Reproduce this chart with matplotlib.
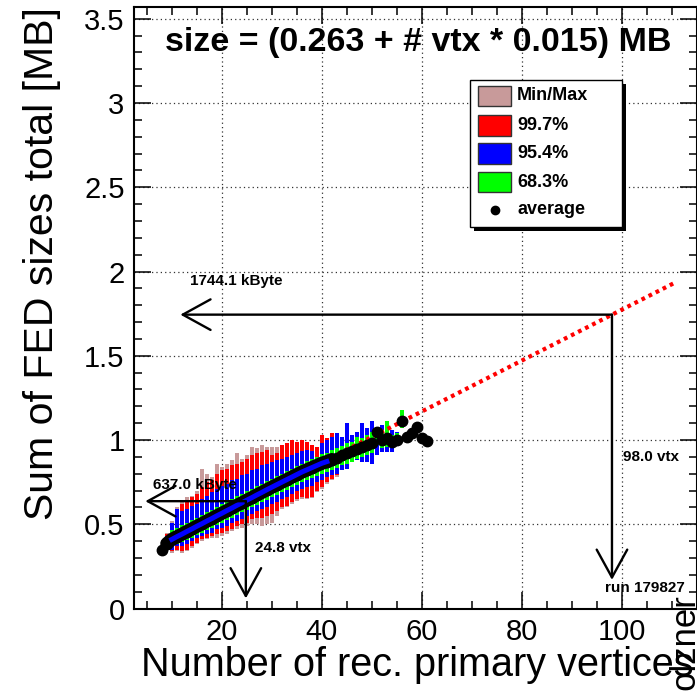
import matplotlib
matplotlib.use('Agg')
import matplotlib.pyplot as plt
import numpy as np
from matplotlib.patches import Rectangle
from matplotlib.lines import Line2D
from matplotlib.ticker import MultipleLocator, FuncFormatter

plt.rcParams['font.family'] = ['Liberation Sans', 'DejaVu Sans']

# number of vertices per bin
vtx_avg = list(range(8, 62))
avg_size = [0.345, 0.385, 0.410, 0.426, 0.441, 0.457, 0.472, 0.488, 0.503, 0.519,
            0.534, 0.550, 0.565, 0.581, 0.596, 0.612, 0.627, 0.643, 0.658, 0.674,
            0.689, 0.705, 0.720, 0.735, 0.750, 0.765, 0.780, 0.795, 0.810, 0.823,
            0.836, 0.849, 0.862, 0.872, 0.884, 0.896, 0.910, 0.924, 0.936, 0.948,
            0.958, 0.968, 0.985, 1.050, 1.000, 1.010, 0.990, 1.000, 1.115, 1.020,
            1.040, 1.080, 1.010, 0.995]

vtx_band = list(range(8, 57))
size_min = [.33, .35, .33, .34, .33, .34, .36, .38, .40, .41, .42, .42, .43, .44, .46, .47,
            .48, .49, .50, .50, .49, .50, .51, .55, .59, .60, .62, .64, .65, .65, .655, .69,
            .71, .74, .76, .78, .82, .83, .87, .88, .87, .87, .86, .91, .93, .93, .93, .97, 1.07]
lo_997 = [.335, .355, .34, .35, .34, .35, .37, .39, .41, .42, .43, .44, .45, .46, .47, .49,
          .50, .51, .53, .54, .54, .55, .56, .58, .60, .61, .63, .65, .66, .655, .66, .70,
          .72, .75, .77, .79, .82, .83, .87, .88, .87, .87, .86, .91, .93, .93, .93, .97, 1.07]
lo_954 = [.335, .36, .35, .37, .37, .38, .40, .42, .43, .44, .45, .47, .48, .49, .51, .52,
          .53, .55, .56, .58, .59, .60, .62, .63, .65, .66, .68, .70, .71, .72, .73, .75,
          .76, .78, .79, .80, .82, .83, .87, .88, .87, .87, .86, .91, .93, .93, .93, .97, 1.07]
lo_683 = [.34, .36, .37, .38, .395, .405, .42, .435, .45, .465, .48, .495, .51, .525, .54, .555,
          .57, .585, .60, .615, .63, .645, .66, .675, .69, .705, .72, .735, .75, .76, .775, .785,
          .80, .81, .82, .835, .85, .86, .87, .89, .90, .91, .92, .97, .95, .96, .95, .97, 1.07]
hi_683 = [.36, .42, .465, .48, .495, .51, .525, .54, .555, .57, .585, .60, .62, .635, .65, .665,
          .68, .695, .71, .725, .74, .755, .77, .785, .80, .815, .83, .845, .86, .875, .885, .90,
          .915, .925, .94, .95, .965, .98, .99, 1.02, 1.01, 1.03, 1.05, 1.08, 1.06, 1.11, 1.03, 1.04, 1.18]
hi_954 = [.36, .43, .51, .59, .58, .59, .61, .62, .65, .67, .69, .71, .73, .74, .76, .77,
          .79, .80, .82, .83, .85, .86, .87, .88, .89, .90, .91, .92, .935, .94, .935, .90,
          .98, 1.00, 1.02, 1.04, 1.02, 1.10, 1.03, 1.05, 1.10, 1.07, 1.11, 1.08, 1.09, 1.11, 1.06, 1.05, 1.18]
hi_997 = [.365, .44, .51, .59, .62, .64, .66, .68, .72, .75, .76, .80, .82, .83, .85, .86,
          .87, .89, .91, .92, .93, .94, .91, .92, .97, .98, 1.00, .99, 1.00, .99, .97, .96,
          1.03, 1.01, 1.04, 1.04, 1.02, 1.10, 1.03, 1.05, 1.10, 1.07, 1.11, 1.08, 1.09, 1.11, 1.06, 1.05, 1.18]
size_max = [.37, .45, .52, .60, .63, .66, .67, .70, .83, .80, .78, .86, .84, .86, .88, .92,
            .89, .91, .96, .95, .97, .96, .96, .96, .97, .98, 1.00, .99, 1.00, .99, .97, .96,
            1.03, 1.01, 1.04, 1.04, 1.02, 1.10, 1.03, 1.05, 1.10, 1.07, 1.11, 1.08, 1.09, 1.11, 1.06, 1.05, 1.18]

fit_intercept = 0.263
fit_slope = 0.01511
fit_range = [8, 110.5]

arrow_hi = (98.0, 1.7441)
arrow_lo = (24.8, 0.637)

c_minmax = '#c89a9a'
c_997 = '#ff0000'
c_954 = '#0000ff'
c_683 = '#00ff00'

W, H = 697, 692
fig = plt.figure(figsize=(W / 100, H / 100), dpi=100)
ax = fig.add_axes([134.3 / W, 1 - 608.5 / H, (696.5 - 134.3) / W, (608.5 - 7) / H])

xb = np.array(vtx_band)
bands = [(size_min, size_max, c_minmax), (lo_997, hi_997, c_997),
         (lo_954, hi_954, c_954), (lo_683, hi_683, c_683)]
for lo, hi, col in bands:
    lo, hi = np.array(lo), np.array(hi)
    ax.bar(xb, hi - lo, bottom=lo, width=0.72, color=col, linewidth=0, zorder=2)

fx = np.array(fit_range)
ax.plot(fx, fit_intercept + fit_slope * fx, color='red', lw=3.0,
        linestyle=(0, (0.9, 1.0)), zorder=3)

ax.plot(vtx_avg, avg_size, 'o', color='black', ms=7.5, zorder=4)
ax.plot(vtx_avg[1:35], avg_size[1:35], color='black', lw=9.5, zorder=4,
        solid_capstyle='round')
ax.plot(vtx_avg[2:34], avg_size[2:34], color='#0000ff', lw=3.6, zorder=5)

# arrows
def arrow(x0, y0, x1, y1):
    ax.annotate('', xy=(x1, y1), xytext=(x0, y0),
                arrowprops=dict(arrowstyle='->,head_length=1.0,head_width=0.55',
                                color='black', lw=1.7, mutation_scale=20,
                                shrinkA=0, shrinkB=0), zorder=6)

arrow(arrow_hi[0], arrow_hi[1], 11.7, arrow_hi[1])
arrow(arrow_hi[0], arrow_hi[1], arrow_hi[0], 0.17)
arrow(arrow_lo[0], arrow_lo[1], 4.7, arrow_lo[1])
arrow(arrow_lo[0], arrow_lo[1], arrow_lo[0], 0.06)

small = dict(fontsize=11, fontweight='bold', va='center', ha='left', zorder=7)
ax.text(13.7, 1.944, '%.1f kByte' % (arrow_hi[1] * 1000), **small)
ax.text(100.2, 0.90, '%.1f vtx' % arrow_hi[0], **small)
ax.text(96.7, 0.12, 'run 179827', **small)
ax.text(6.3, 0.733, '%.1f kByte' % (arrow_lo[1] * 1000), **small)
ax.text(26.7, 0.36, '%.1f vtx' % arrow_lo[0], **small)

ax.text(8.7, 3.362, 'size = (%.3f + # vtx * %.3f) MB' % (fit_intercept, 0.015),
        fontsize=24.5, fontweight='bold', va='center', ha='left')

ax.set_xlim(2.5, 114.9)
ax.set_ylim(0, 3.57)
ax.xaxis.set_major_locator(MultipleLocator(20))
ax.xaxis.set_minor_locator(MultipleLocator(5))
ax.yaxis.set_major_locator(MultipleLocator(0.5))
ax.yaxis.set_minor_locator(MultipleLocator(0.1))
ax.yaxis.set_major_formatter(FuncFormatter(lambda v, p: '%g' % v))
ax.tick_params(which='both', direction='in', top=True, right=True, width=1.1,
               labelsize=21)
ax.tick_params(which='major', length=12, pad=7)
ax.tick_params(which='minor', length=6)
ax.set_axisbelow(True)
ax.grid(True, which='major', color='#333333', linestyle=(0, (1, 2.5)), lw=0.9)
for s in ax.spines.values():
    s.set_linewidth(1.5)

ax.text(0.995, -0.094, 'Number of rec. primary vertices', transform=ax.transAxes,
        fontsize=28.5, ha='right', va='center')
ax.text(-0.164, 1.0, 'Sum of FED sizes total [MB]', transform=ax.transAxes,
        fontsize=29.5, rotation=90, ha='center', va='top')

# legend box, ROOT style
def fxy(px, py):
    return px / W, 1 - py / H

lx0, ly0, lx1, ly1 = 470, 80, 622, 227
x, y = fxy(lx0 + 4, ly1 + 4)
fig.add_artist(Rectangle((x, y), (lx1 - lx0) / W, (ly1 - ly0) / H,
                         transform=fig.transFigure, facecolor='black', edgecolor='none', zorder=10))
x, y = fxy(lx0, ly1)
fig.add_artist(Rectangle((x, y), (lx1 - lx0) / W, (ly1 - ly0) / H,
                         transform=fig.transFigure, facecolor='white', edgecolor='black',
                         lw=1, zorder=11))
entries = [('Min/Max', c_minmax), ('99.7%', c_997), ('95.4%', c_954), ('68.3%', c_683)]
rows = [96, 125.5, 153.5, 182]
for (lab, col), ry in zip(entries, rows):
    x, y = fxy(478, ry + 10)
    fig.add_artist(Rectangle((x, y), 33 / W, 20 / H, transform=fig.transFigure,
                             facecolor=col, edgecolor='#333333', lw=1, zorder=12))
    fig.text(517 / W, 1 - ry / H, lab, fontsize=13, fontweight='bold',
             va='center', ha='left', zorder=12)
x, y = fxy(495, 210)
fig.add_artist(Line2D([x], [y], marker='o', color='black', ms=6,
                      transform=fig.transFigure, zorder=12))
fig.text(517 / W, 1 - 210 / H, 'average', fontsize=13, fontweight='bold',
         va='center', ha='left', zorder=12)

fig.text(684 / W, -0.03, 'Holzner', fontsize=25, rotation=90, ha='center', va='bottom')

fig.savefig('out.png', dpi=100)
